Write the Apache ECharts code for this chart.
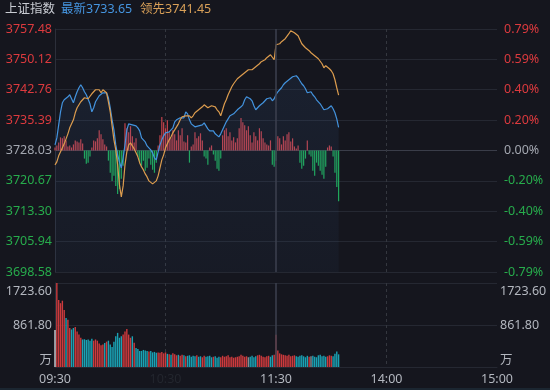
<!DOCTYPE html>
<html><head><meta charset="utf-8">
<script src="https://cdn.jsdelivr.net/npm/echarts@6/dist/echarts.min.js"></script>
<style>html,body{margin:0;padding:0;background:#15161e;}#c{width:550px;height:390px;}</style>
</head><body><div id="c"></div>
<script>
const indexName = '上证指数';
const priceMin = 3698.58, priceMax = 3757.48;
const priceLabels = ['3698.58','3705.94','3713.30','3720.67','3728.03','3735.39','3742.76','3750.12','3757.48'];
const pctLabels = ['-0.79%','-0.59%','-0.40%','-0.20%','0.00%','0.20%','0.40%','0.59%','0.79%'];
const volMax = 1723.6;
const volLabels = ['万','861.80','1723.60'];
const timeTicks = ['09:30','10:30','11:30','14:00','15:00'];

const latest = [3729.39,3731.09,3734.25,3737.41,3739.60,3740.32,3740.08,3741.05,3741.54,3740.57,
3739.60,3741.05,3742.26,3743.24,3743.96,3743.24,3742.26,3741.54,3741.29,3739.35,
3737.41,3738.38,3739.84,3740.57,3741.29,3741.54,3742.02,3741.78,3742.02,3740.81,
3738.38,3735.47,3733.04,3729.39,3726.97,3725.28,3723.82,3726.25,3729.39,3733.04,
3734.49,3734.74,3734.25,3734.49,3734.01,3733.52,3732.79,3731.09,3730.61,3730.12,
3729.15,3729.39,3728.18,3727.46,3726.25,3725.76,3727.70,3729.39,3730.61,3731.58,
3732.31,3732.07,3732.55,3732.31,3733.52,3734.98,3735.47,3735.22,3735.95,3736.20,
3735.95,3737.41,3736.92,3735.47,3734.49,3734.25,3733.77,3734.25,3734.01,3733.77,
3734.25,3734.74,3734.01,3733.28,3732.79,3732.55,3732.79,3732.07,3731.82,3731.34,
3732.07,3733.04,3734.01,3734.98,3735.71,3736.44,3736.68,3736.92,3737.41,3737.90,
3738.14,3738.62,3739.11,3740.32,3741.05,3741.05,3740.57,3740.08,3738.87,3737.90,
3738.38,3738.87,3739.11,3739.60,3740.08,3740.57,3741.05,3740.81,3740.08,3740.57,
3741.54,3742.26,3742.75,3743.24,3743.96,3744.45,3744.93,3745.18,3745.66,3745.91,
3746.39,3746.15,3745.66,3744.93,3744.21,3743.72,3742.99,3742.02,3742.26,3742.26,
3741.54,3741.05,3740.32,3739.84,3739.35,3738.87,3737.90,3737.65,3738.14,3738.62,
3738.87,3738.14,3737.17,3735.71,3733.65];

const lead = [3724.55,3725.28,3726.73,3727.70,3728.67,3729.64,3730.85,3732.07,3733.52,3734.49,
3735.47,3737.17,3738.38,3739.11,3739.84,3740.32,3740.81,3741.29,3740.57,3741.05,
3741.78,3742.26,3742.75,3742.51,3742.75,3742.02,3742.75,3742.99,3742.02,3739.84,
3737.41,3734.01,3730.61,3728.18,3724.55,3719.69,3716.78,3719.45,3724.55,3727.70,
3729.39,3729.88,3729.15,3728.42,3727.46,3726.49,3725.03,3724.06,3723.33,3722.36,
3721.63,3720.66,3720.42,3719.94,3720.18,3720.66,3721.88,3723.82,3725.76,3726.97,
3728.67,3729.64,3730.61,3731.34,3732.31,3733.04,3733.77,3734.49,3735.47,3736.20,
3736.68,3736.44,3736.92,3736.44,3735.95,3736.44,3737.17,3737.65,3737.90,3738.38,
3738.62,3739.11,3738.87,3738.38,3738.62,3738.87,3739.11,3738.62,3737.90,3737.41,
3736.44,3737.90,3739.35,3740.32,3741.54,3742.51,3743.48,3744.21,3744.69,3745.42,
3745.66,3746.15,3746.39,3746.88,3747.36,3747.60,3747.12,3747.60,3747.85,3748.33,
3748.58,3749.06,3749.55,3749.79,3750.03,3750.52,3751.00,3751.24,3750.76,3750.03,
3753.67,3753.19,3753.91,3754.40,3754.16,3755.13,3755.61,3756.34,3757.07,3757.31,
3756.58,3756.10,3755.86,3754.89,3753.91,3753.43,3752.94,3752.46,3752.22,3751.73,
3751.49,3751.00,3750.76,3750.27,3749.79,3749.06,3748.09,3748.58,3748.82,3747.85,
3747.36,3746.63,3745.18,3743.24,3741.45];

const strength = [3,5,8,13,12,14,10,4,5,3,
6,10,9,8,11,7,-8,-13,-12,-6,
3,10,9,12,20,16,11,6,4,-10,
-22,-30,-25,-35,-43,-38,-28,-15,27,22,
18,24,14,8,12,-6,-12,-15,-10,-20,
-17,-8,-14,-19,-22,-12,5,15,33,28,
22,30,18,12,20,16,10,20,15,22,
9,8,15,-12,4,6,18,12,14,17,
10,-6,-8,-14,3,5,-4,-10,-18,-20,
-8,15,20,22,14,18,10,13,8,12,
22,32,28,25,20,24,15,8,18,14,
10,22,19,12,8,6,5,10,-14,-16,
-10,14,12,6,14,10,16,18,9,12,
4,2,5,-12,-18,-15,-8,10,-4,-6,
-20,-25,-12,-15,-20,-24,-28,-16,3,5,
4,-6,-22,-36,-50];

const volume = [760,1723.6,1375,1310,1360,1170,1005,970,800,770,
800,820,730,665,600,565,570,555,565,540,
580,540,565,540,480,445,460,490,520,540,
460,410,520,630,700,600,630,665,730,780,
665,600,630,500,390,370,330,330,350,340,
330,320,330,300,310,290,300,290,310,280,
300,270,260,250,280,260,240,250,230,250,
240,220,230,240,210,230,220,240,210,220,
200,230,210,220,230,200,210,220,190,210,
200,230,210,220,240,200,210,190,200,210,
220,250,230,210,220,200,210,230,200,220,
240,250,230,210,200,220,230,210,240,250,
660,340,280,260,250,240,230,250,220,230,
240,220,210,230,240,220,200,230,210,220,
230,210,200,240,250,220,230,210,220,240,
230,220,270,320,260];

// time categories of a trading day
const times = [];
for (let m = 0; m <= 120; m++) { const t = 9*60+30+m; times.push(String(Math.floor(t/60)).padStart(2,'0')+':'+String(t%60).padStart(2,'0')); }
for (let m = 1; m <= 120; m++) { const t = 13*60+m; times.push(String(Math.floor(t/60)).padStart(2,'0')+':'+String(t%60).padStart(2,'0')); }

const FONT = "'Noto Sans','Noto Sans CJK SC',sans-serif";
const RED = '#dc3a3e', GREEN = '#27ac4c', GRAY = '#a3a7b0';
const priceStep = (priceMax - priceMin) / 8;
const lblIdx = v => Math.round((v - priceMin) / priceStep);
const sideColor = (v) => { const k = lblIdx(v); return k > 4 ? RED : (k < 4 ? GREEN : GRAY); };
const hLineColors = ['#252832','#252832','#252832','#252832','#3a3d49','#252832','#252832','#252832','#252832'];

const chart = echarts.init(document.getElementById('c'), null, {renderer:'canvas'});
const vline = {symbol:['none','none'], silent:true, label:{show:false},
  lineStyle:{color:'#3d414f', type:'solid', width:1.5}, data:[{xAxis:'11:30'}], animation:false};

chart.setOption({
  backgroundColor:'#15161e',
  animation:false,
  textStyle:{fontFamily:FONT},
  graphic:[
    {type:'text', x:5, y:9, style:{text:indexName, fill:'#c9ccd3', fontSize:12.5, fontFamily:FONT, verticalAlign:'middle'}},
    {type:'text', x:61, y:9, style:{text:'最新' + latest[latest.length-1].toFixed(2), fill:'#4595e0', fontSize:12.5, fontFamily:FONT, verticalAlign:'middle'}},
    {type:'text', x:140, y:9, style:{text:'领先' + lead[lead.length-1].toFixed(2), fill:'#d9a058', fontSize:12.5, fontFamily:FONT, verticalAlign:'middle'}},
    {type:'rect', shape:{x:0, y:388, width:550, height:2}, style:{fill:'#1b2631'}}
  ],
  grid:[
    {left:55, right:53, top:29, height:243},
    {left:55, right:53, top:283, height:84}
  ],
  xAxis:[
    {type:'category', gridIndex:0, data:times, boundaryGap:false,
     axisLine:{show:false}, axisTick:{show:false}, axisLabel:{show:false},
     splitLine:{show:true, interval:(i)=> i===60 || i===180, lineStyle:{color:'#34373f', type:[3,3], width:1}}},
    {type:'category', gridIndex:1, data:times, boundaryGap:false,
     axisLine:{show:true, lineStyle:{color:'#252832'}}, axisTick:{show:false},
     axisLabel:{show:true, interval:(i, v)=> timeTicks.indexOf(v) >= 0, margin:6, fontSize:12.5, color:'#b3b7bf', fontFamily:FONT,
       formatter:(v)=> v === timeTicks[1] ? '{f|' + v + '}' : v,
       rich:{f:{color:'#23262e', fontSize:12.5, fontFamily:FONT}}},
     splitLine:{show:true, interval:(i)=> i===60 || i===180, lineStyle:{color:'#34373f', type:[3,3], width:1}}}
  ],
  yAxis:[
    {type:'value', gridIndex:0, min:priceMin, max:priceMax, interval:priceStep, position:'left',
     axisLine:{show:true, lineStyle:{color:'#2c2f3a'}}, axisTick:{show:false},
     axisLabel:{margin:3, fontSize:12.5, fontFamily:FONT, formatter:(v)=> priceLabels[lblIdx(v)], color:(v)=> sideColor(v)},
     splitLine:{show:true, lineStyle:{color:hLineColors, width:1}}},
    {type:'value', gridIndex:0, min:priceMin, max:priceMax, interval:priceStep, position:'right',
     axisLine:{show:false}, axisTick:{show:false},
     axisLabel:{margin:7, fontSize:12.5, fontFamily:FONT, formatter:(v)=> pctLabels[lblIdx(v)], color:(v)=> sideColor(v)},
     splitLine:{show:false}},
    {type:'value', gridIndex:0, min:-120, max:120, show:false},
    {type:'value', gridIndex:1, min:0, max:volMax, interval:volMax/2, position:'left',
     axisLine:{show:true, lineStyle:{color:'#2c2f3a'}}, axisTick:{show:false},
     axisLabel:{margin:3, fontSize:12.5, fontFamily:FONT, color:'#b3b7bf',
       formatter:(v)=>{ const k = Math.round(v/(volMax/2)); return k===2 ? '{t|'+volLabels[2]+'}' : (k===0 ? '{b|'+volLabels[0]+'}' : volLabels[1]); },
       rich:{t:{padding:[16,0,0,0], fontSize:12.5, fontFamily:FONT, color:'#b3b7bf'}, b:{padding:[0,0,14,0], fontSize:12.5, fontFamily:FONT, color:'#b3b7bf'}}},
     splitLine:{show:true, lineStyle:{color:'#252832'}}},
    {type:'value', gridIndex:1, min:0, max:volMax, interval:volMax/2, position:'right',
     axisLine:{show:false}, axisTick:{show:false},
     axisLabel:{margin:3, fontSize:12.5, fontFamily:FONT, color:'#b3b7bf',
       formatter:(v)=>{ const k = Math.round(v/(volMax/2)); return k===2 ? '{t|'+volLabels[2]+'}' : (k===0 ? '{b|'+volLabels[0]+'}' : volLabels[1]); },
       rich:{t:{padding:[16,0,0,0], fontSize:12.5, fontFamily:FONT, color:'#b3b7bf'}, b:{padding:[0,0,14,0], fontSize:12.5, fontFamily:FONT, color:'#b3b7bf'}}},
     splitLine:{show:false}}
  ],
  series:[
    {type:'bar', xAxisIndex:0, yAxisIndex:2, data:strength, barWidth:1.2, silent:true,
     itemStyle:{color:(p)=> p.value >= 0 ? '#c4434c' : '#1fae5a'}, markLine:vline},
    {type:'line', xAxisIndex:0, yAxisIndex:0, data:latest, showSymbol:false, symbol:'none', silent:true,
     lineStyle:{color:'#4393de', width:1.2},
     areaStyle:{origin:'start', color:new echarts.graphic.LinearGradient(0,0,0,1,[{offset:0,color:'rgba(55,95,150,0.20)'},{offset:1,color:'rgba(55,95,150,0.09)'}])}},
    {type:'line', xAxisIndex:0, yAxisIndex:0, data:lead, showSymbol:false, symbol:'none', silent:true,
     lineStyle:{color:'#dc9c4e', width:1.2}},
    {type:'bar', xAxisIndex:1, yAxisIndex:3, data:volume, barWidth:1.4, silent:true,
     itemStyle:{color:(p)=>{ const i = p.dataIndex; if (i===0) return '#cfd0d4'; const d = latest[i]-latest[i-1]; return d>0 ? '#cc3a3d' : (d<0 ? '#1aa2b4' : '#8a8b90'); }},
     markLine:vline}
  ]
});
</script></body></html>
